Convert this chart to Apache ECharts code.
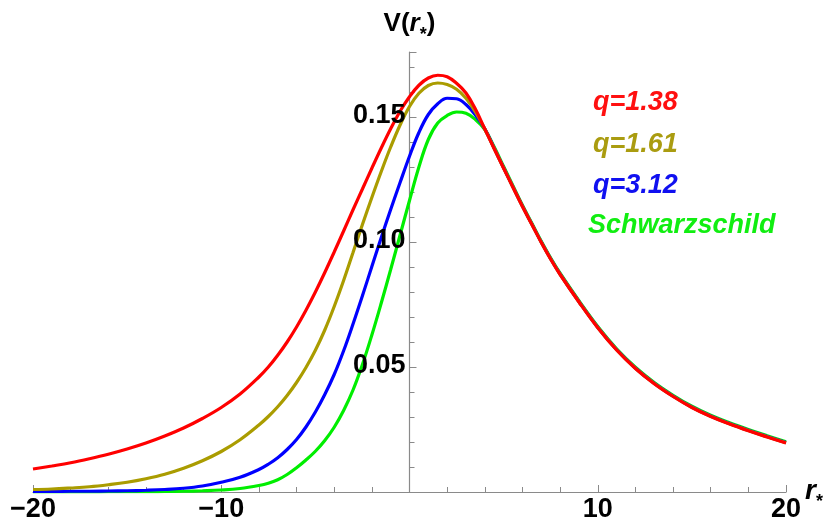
<!DOCTYPE html>
<html><head><meta charset="utf-8">
<script src="https://cdn.jsdelivr.net/npm/echarts@6/dist/echarts.min.js"></script>
<style>html,body{margin:0;padding:0;background:#fff}#c{width:825px;height:526px}</style>
</head><body><div id="c"></div>
<script>
const xs = [-20,-19,-18,-17,-16,-15,-14,-13,-12,-11,-10,-9,
  -8,-7.5,-7,-6.5,-6,-5.5,-5,-4.5,-4,-3.5,-3,-2.5,-2,-1.5,-1,-0.5,0,0.5,1,1.5,2,2.5,3,3.5,4,4.5,5,5.5,6,6.5,7,7.5,8,
  9,10,11,12,13,14,15,16,17,18,19,20];
const vQ138 = [0.0092,0.0104,0.0117,0.0133,0.0151,0.0172,0.0196,0.0224,0.0256,0.0294,0.0338,0.0392,
  0.0460,0.0500,0.0547,0.0600,0.0660,0.0727,0.0800,0.0878,0.0960,0.1044,0.1129,0.1212,0.1295,0.1376,0.1453,0.1523,0.1581,0.1627,0.1656,0.1667,0.1661,0.1635,0.1596,0.1532,0.1452,0.1373,0.1295,0.1218,0.1142,0.1070,0.0998,0.0931,0.0870,
  0.0760,0.0657,0.0568,0.0494,0.0433,0.0382,0.0338,0.0302,0.0272,0.0245,0.0220,0.0196];
const vQ161 = [0.0010,0.0012,0.0016,0.0021,0.0029,0.0039,0.0053,0.0071,0.0095,0.0125,0.0162,0.0209,
  0.0268,0.0302,0.0341,0.0386,0.0438,0.0498,0.0567,0.0648,0.0742,0.0846,0.0958,0.1070,0.1178,0.1282,0.1380,0.1468,0.1542,0.1595,0.1626,0.1636,0.1630,0.1611,0.1575,0.1520,0.1452,0.1374,0.1296,0.1219,0.1143,0.1071,0.0999,0.0932,0.0871,
  0.0761,0.0658,0.0569,0.0495,0.0434,0.0383,0.0339,0.0303,0.0273,0.0246,0.0221,0.0197];
const vQ312 = [0.0002,0.0002,0.0003,0.0003,0.0004,0.0005,0.0007,0.0010,0.0015,0.0024,0.0039,0.0059,
  0.0090,0.0111,0.0137,0.0170,0.0210,0.0260,0.0320,0.0390,0.0470,0.0565,0.0672,0.0785,0.0902,0.1018,0.1130,0.1238,0.1343,0.1438,0.1510,0.1553,0.1575,0.1573,0.1550,0.1508,0.1453,0.1375,0.1297,0.1220,0.1144,0.1072,0.1000,0.0933,0.0872,
  0.0762,0.0659,0.0570,0.0496,0.0435,0.0384,0.0340,0.0304,0.0274,0.0247,0.0222,0.0198];
const vSchw = [0.0000,0.0000,0.0000,0.0000,0.0001,0.0001,0.0001,0.0002,0.0003,0.0005,0.0008,0.0014,
  0.0026,0.0035,0.0049,0.0070,0.0097,0.0128,0.0163,0.0206,0.0259,0.0326,0.0408,0.0510,0.0628,0.0756,0.0890,0.1028,0.1166,0.1300,0.1410,0.1476,0.1506,0.1520,0.1515,0.1490,0.1450,0.1380,0.1302,0.1224,0.1147,0.1075,0.1003,0.0936,0.0875,
  0.0765,0.0662,0.0573,0.0499,0.0438,0.0387,0.0343,0.0307,0.0277,0.0250,0.0225,0.0201];
const names = ['q=1.38','q=1.61','q=3.12','Schwarzschild'];
const colors = ['#ff0000','#aa9c00','#0000ff','#00ee00'];
const textColors = ['#ff1010','#aa9c10','#1010f0','#11ee11'];
const xTicks = [-20,-10,10,20];
const yTicks = [0.05,0.10,0.15];

const FONT = '"Liberation Sans", Arial, sans-serif';
const pts = v => xs.map((x,i)=>[x,v[i]]);
const chart = echarts.init(document.getElementById('c'));
const seriesVals = [vQ138,vQ161,vQ312,vSchw];
const order = [3,2,1,0];
const axisCol = '#8a8a8a';
chart.setOption({
  animation:false,
  grid:{left:33,right:39,top:52,bottom:34,containLabel:false,outerBoundsMode:'none'},
  xAxis:{type:'value',min:-20,max:20,interval:10,
    axisLine:{onZero:true,lineStyle:{color:axisCol,width:1.2}},
    axisTick:{inside:true,length:7,lineStyle:{color:axisCol}},
    minorTick:{show:true,splitNumber:5,length:5,lineStyle:{color:axisCol}},
    splitLine:{show:false},
    axisLabel:{color:'#000',fontFamily:FONT,fontWeight:'bold',fontSize:27,margin:4,
      formatter:v=> xTicks.includes(v) ? (v<0?'\u2212'+Math.abs(v):String(v)) : ''}
  },
  yAxis:{type:'value',min:0,max:0.176,interval:0.05,
    axisLine:{show:true,onZero:true,lineStyle:{color:axisCol,width:1.2}},
    axisTick:{show:true,inside:true,length:7,lineStyle:{color:axisCol}},
    minorTick:{show:true,splitNumber:5,length:5,lineStyle:{color:axisCol}},
    splitLine:{show:false},
    axisLabel:{show:false},
    name:'{v|V(}{r|r}{s|*}{v|)}',nameLocation:'end',nameGap:8,
    nameTextStyle:{align:'center',rich:{v:{fontFamily:FONT,fontWeight:'bold',fontSize:26,color:'#000',lineHeight:40,verticalAlign:'middle'},
      r:{fontFamily:FONT,fontWeight:'bold',fontStyle:'italic',fontSize:26,color:'#000',lineHeight:40,verticalAlign:'middle'},
      s:{fontFamily:FONT,fontWeight:'bold',fontSize:18,color:'#000',lineHeight:40,verticalAlign:'bottom'}}}
  },
  series: order.map(i=>({type:'line',name:names[i],data:pts(seriesVals[i]),smooth:0.4,showSymbol:false,
    lineStyle:{color:colors[i],width:3.2},itemStyle:{color:colors[i]}}))
});
const legendGraphics = names.map((n,i)=>({type:'text',left:[593,593,593,588][i],top:[89,131,172,212][i],
    style:{text:n,fill:textColors[i],font:'italic bold 27px '+FONT}}));
const labelGraphics = yTicks.map(v=>{
  const p = chart.convertToPixel({gridIndex:0},[0,v]);
  return {type:'text',x:p[0]-4,y:p[1]-1,z:100,
    style:{text:v.toFixed(2),fill:'#000',font:'bold 27px '+FONT,align:'right',verticalAlign:'middle'}};
});
const xEnd = chart.convertToPixel({gridIndex:0},[20,0]);
const xName = {type:'text',x:xEnd[0]+19,y:xEnd[1]-1,z:100,
  style:{text:'{r|r}{s|*}',align:'left',verticalAlign:'middle',
    rich:{r:{fontFamily:FONT,fontWeight:'bold',fontStyle:'italic',fontSize:28,fill:'#000',lineHeight:40,verticalAlign:'middle'},
      s:{fontFamily:FONT,fontWeight:'bold',fontSize:18,fill:'#000',lineHeight:40,verticalAlign:'bottom'}}}};
chart.setOption({graphic: legendGraphics.concat(labelGraphics,[xName])});
</script></body></html>
